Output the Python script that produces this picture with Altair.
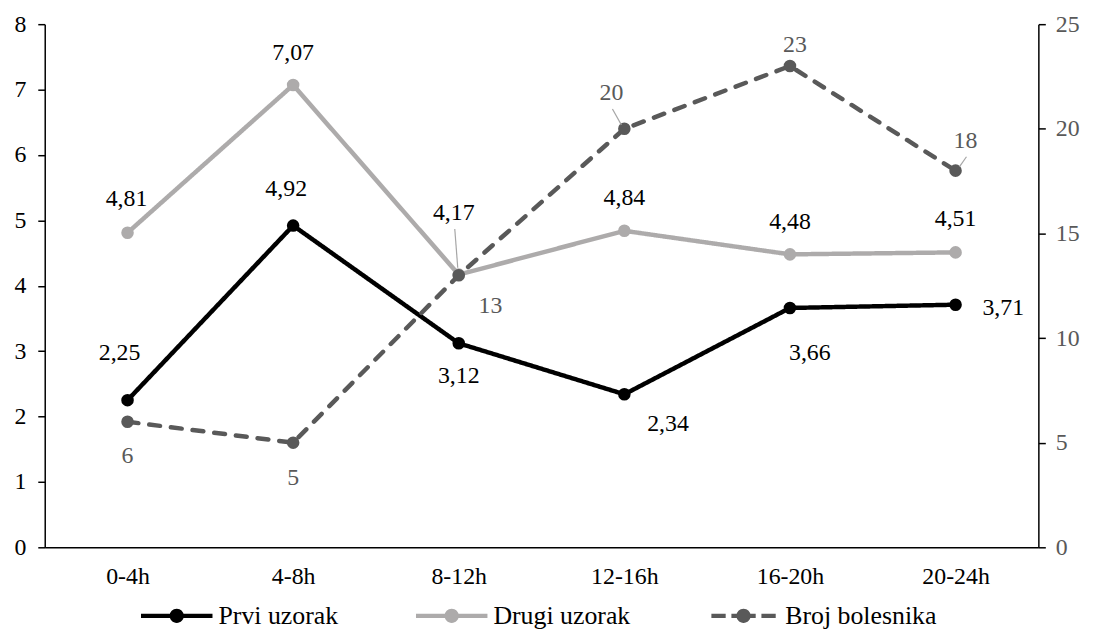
import altair as alt
import pandas as pd

# ---------------- data ----------------
categories = ["0-4h", "4-8h", "8-12h", "12-16h", "16-20h", "20-24h"]
prvi_uzorak = [2.25, 4.92, 3.12, 2.34, 3.66, 3.71]
drugi_uzorak = [4.81, 7.07, 4.17, 4.84, 4.48, 4.51]
broj_bolesnika = [6, 5, 13, 20, 23, 18]

series_names = ["Prvi uzorak", "Drugi uzorak", "Broj bolesnika"]
left_ticks = [0, 1, 2, 3, 4, 5, 6, 7, 8]
right_ticks = [0, 5, 10, 15, 20, 25]

# ---------------- styles ----------------
series_colors = ["#000000", "#ADABAB", "#595959"]
label_colors = ["#000000", "#000000", "#595959"]
FONT = "Liberation Serif"
FS = 24
LEG_FS = 26

# label placement (pixel offsets from the point)
prvi_dx = [-8, -7, 0, 44, 20, 48]
prvi_dy = [-47, -37, 33, 30, 45, 3]
drugi_dx = [-1, 0, -5, 0, 0, 0]
drugi_dy = [-34, -32, -62, -33, -33, -34]
broj_dx = [0, 0, 32, -13, 5, 10]
broj_dy = [35, 36, 31, -36, -21, -30]

# leader lines: (series, category index, x1, y1, x2, y2) offsets in px
leaders = [
    ("Drugi uzorak", 2, -4, -46, -1, -7),
    ("Broj bolesnika", 3, -12, -20, -3, -4),
    ("Broj bolesnika", 5, 11, -14, 4, -4),
]


def fmt(v, is_count):
    return str(int(v)) if is_count else f"{v:.2f}".replace(".", ",")


rows = []
for s, vals in [
    (series_names[0], prvi_uzorak),
    (series_names[1], drugi_uzorak),
    (series_names[2], broj_bolesnika),
]:
    for i, (c, v) in enumerate(zip(categories, vals)):
        rows.append(dict(cat=c, series=s, value=v,
                         label=fmt(v, s == series_names[2]), idx=i))
df = pd.DataFrame(rows)

color_scale = alt.Scale(domain=series_names, range=series_colors)

# legend symbol paths (unit box -1..1, 1 unit = 36 px)
h = 0.06
r = 0.2
circle = f"M{r},0A{r},{r},0,1,1,-{r},0A{r},{r},0,1,1,{r},0Z"
solid_path = (f"M-1,-{h}L-0.1,-{h}L-0.1,{h}L-1,{h}Z "
              f"M0.1,-{h}L1,-{h}L1,{h}L0.1,{h}Z " + circle)
dash_path = (f"M-0.9,-{h}L-0.5,-{h}L-0.5,{h}L-0.9,{h}Z "
             f"M-0.34,-{h}L0.34,-{h}L0.34,{h}L-0.34,{h}Z "
             f"M0.5,-{h}L0.9,-{h}L0.9,{h}L0.5,{h}Z " + circle)
shape_scale = alt.Scale(domain=series_names, range=[solid_path, solid_path, dash_path])

x_enc = alt.X(
    "cat:N", sort=categories,
    scale=alt.Scale(type="point", padding=0.5),
    axis=alt.Axis(title=None, labelAngle=0, ticks=False, tickSize=0,
                  domainColor="#000000", domainWidth=1.5,
                  labelFont=FONT, labelFontSize=FS, labelColor="#000000",
                  labelPadding=17, grid=False),
)
y_left = alt.Y(
    "value:Q", scale=alt.Scale(domain=[0, 8], nice=False, zero=True),
    axis=alt.Axis(title=None, orient="left", values=left_ticks, grid=False,
                  domainColor="#000000", domainWidth=1.5, tickColor="#000000",
                  tickWidth=1.5, tickSize=7, labelFont=FONT, labelFontSize=FS,
                  labelColor="#000000", labelPadding=12),
)
y_right = alt.Y(
    "value:Q", scale=alt.Scale(domain=[0, 25], nice=False, zero=True),
    axis=alt.Axis(title=None, orient="right", values=right_ticks, grid=False,
                  domainColor="#000000", domainWidth=1.5, tickColor="#000000",
                  tickWidth=1.5, tickSize=7, labelFont=FONT, labelFontSize=FS,
                  labelColor="#595959", labelPadding=10),
)

legend = alt.Legend(
    title=None, orient="none", legendX=97, legendY=560, direction="horizontal",
    symbolSize=5184, symbolStrokeWidth=0, symbolOpacity=1,
    labelFont=FONT, labelFontSize=LEG_FS, labelColor="#000000", labelOffset=6,
    columnPadding=78, labelLimit=400,
)

color_enc = alt.Color("series:N", scale=color_scale)


def series_layers(names, y_enc):
    layers = []
    for n in names:
        b = alt.Chart(df).transform_filter(alt.datum.series == n)
        dashed = n == series_names[2]
        line = b.mark_line(strokeWidth=4.5, strokeCap="round" if dashed else "butt",
                           strokeDash=[11, 11] if dashed else [1, 0]).encode(
            x=x_enc, y=y_enc, color=color_enc)
        pts = b.mark_circle(size=160, opacity=1).encode(
            x=x_enc, y=y_enc, color=color_enc)
        layers += [line, pts]
    for n in names:
        k = series_names.index(n)
        dxs = [prvi_dx, drugi_dx, broj_dx][k]
        dys = [prvi_dy, drugi_dy, broj_dy][k]
        for s, i, x1, y1, x2, y2 in leaders:
            if s == n:
                layers.append(
                    alt.Chart(df).transform_filter(
                        (alt.datum.series == n) & (alt.datum.idx == i))
                    .mark_rule(color="#A6A6A6", strokeWidth=1.2,
                               xOffset=x1, yOffset=y1, x2Offset=x2, y2Offset=y2)
                    .encode(x=x_enc, x2="cat:N", y=y_enc, y2="value:Q"))
        for i in range(len(categories)):
            layers.append(
                alt.Chart(df).transform_filter(
                    (alt.datum.series == n) & (alt.datum.idx == i))
                .mark_text(font=FONT, fontSize=FS, color=label_colors[k],
                           dx=dxs[i], dy=dys[i], align="center", baseline="middle")
                .encode(x=x_enc, y=y_enc, text="label:N"))
    return layers


# legend-only layer (no rows drawn; entries come from the explicit scale domains)
legend_layer = (
    alt.Chart(df).transform_filter("false")
    .mark_point(filled=True)
    .encode(x=x_enc, y=y_left,
            color=alt.Color("series:N", scale=color_scale, legend=legend),
            shape=alt.Shape("series:N", scale=shape_scale, legend=legend))
)
left = alt.layer(legend_layer, *series_layers(series_names[:2], y_left))
right = alt.layer(*series_layers(series_names[2:], y_right))

chart = (
    alt.layer(left, right)
    .resolve_scale(y="independent", color="shared", shape="shared")
    .properties(width=1001, height=527,
                autosize=alt.AutoSizeParams(type="none"),
                padding={"left": 37, "top": 14, "right": 50, "bottom": 80},
                background="white")
    .configure(font=FONT)
    .configure_view(stroke=None)
    .configure_text(font=FONT)
    .configure_axis(labelFont=FONT)
    .configure_legend(labelFont=FONT, labelFontSize=LEG_FS)
)

chart.save("out.html", embed_options={"renderer": "svg", "actions": False})
